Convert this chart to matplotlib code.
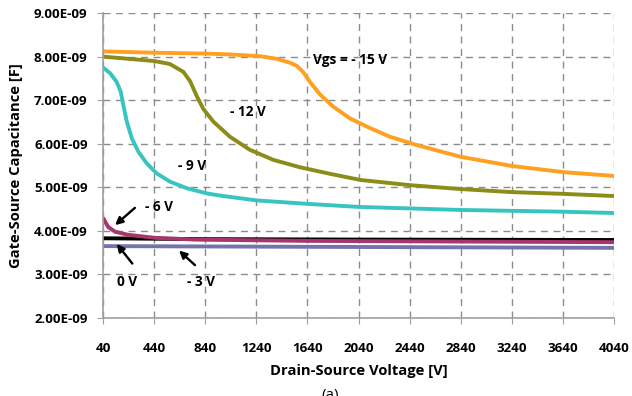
import numpy as np
import matplotlib.pyplot as plt

plt.rcParams["font.family"] = ["Open Sans", "DejaVu Sans"]
plt.rcParams["font.weight"] = "bold"

# Gate-source capacitance [nF] vs drain-source voltage [V], per Vgs
v_15 = [40, 440, 840, 1034, 1269, 1400, 1504, 1556, 1608, 1660, 1739, 1843, 1974,
        2130, 2287, 2496, 2840, 3240, 3640, 4040]
c_15 = [8.12, 8.09, 8.07, 8.05, 8.01, 7.95, 7.86, 7.79, 7.64, 7.42, 7.13, 6.85, 6.58,
        6.36, 6.16, 5.97, 5.70, 5.49, 5.35, 5.26]

v_12 = [40, 277, 440, 564, 669, 721, 773, 825, 903, 1034, 1190, 1373, 1582, 1817, 2052,
        2440, 2840, 3240, 3640, 4040]
c_12 = [8.00, 7.94, 7.90, 7.83, 7.65, 7.44, 7.10, 6.80, 6.51, 6.16, 5.86, 5.63, 5.46, 5.31, 5.17,
        5.05, 4.96, 4.89, 4.85, 4.80]

v_9 = [40, 95, 147, 179, 199, 226, 265, 316, 382, 460, 564, 695, 852, 956, 1240, 1640,
       2040, 2840, 3640, 4040]
c_9 = [7.75, 7.62, 7.42, 7.19, 6.89, 6.51, 6.13, 5.82, 5.55, 5.32, 5.13, 4.98, 4.86, 4.81, 4.70, 4.62,
       4.55, 4.48, 4.44, 4.41]

v_6 = [40, 80, 135, 235, 447, 760, 1640, 2440, 3240, 4040]
c_6 = [4.30, 4.09, 3.98, 3.91, 3.84, 3.80, 3.77, 3.76, 3.75, 3.74]

v_0 = [40, 840, 2040, 4040]
c_0 = [3.83, 3.81, 3.80, 3.79]

v_3 = [40, 2040, 4040]
c_3 = [3.65, 3.63, 3.61]

xticks = np.arange(40, 4041, 400)
yticks = np.arange(2.0, 9.01, 1.0)

fig = plt.figure(figsize=(6.32, 3.96), dpi=100)
ax = fig.add_axes([0.163, 0.197, 0.8085, 0.770])

series = [
    (v_3, c_3, "#7474AC"),
    (v_0, c_0, "black"),
    (v_6, c_6, "#A8356C"),
    (v_9, c_9, "#38C4C0"),
    (v_12, c_12, "#8C8C18"),
    (v_15, c_15, "#FFA020"),
]
for vs, cs, col in series:
    ax.plot(vs, np.array(cs) * 1e-9, color=col, linewidth=2.8,
            solid_joinstyle="round", solid_capstyle="butt")

ax.set_xlim(40, 4040)
ax.set_ylim(2e-9, 9e-9)
ax.set_xticks(xticks)
ax.set_yticks(yticks * 1e-9)
ax.set_yticklabels([f"{t:.2f}E-09" for t in yticks])
ax.grid(True, color="#8c8c8c", linestyle=(0, (5, 4)), linewidth=1)
for s in ["top", "right"]:
    ax.spines[s].set_visible(False)
for s in ["left", "bottom"]:
    ax.spines[s].set_color("#a0a0a0")
    ax.spines[s].set_linewidth(1.2)
ax.tick_params(colors="#a0a0a0", labelcolor="black", length=4, labelsize=9.6)
ax.tick_params(axis="x", pad=13)
ax.tick_params(axis="y", pad=7)
for lab in ax.get_xticklabels() + ax.get_yticklabels():
    lab.set_fontweight("bold")

ax.set_xlabel("Drain-Source Voltage [V]", fontsize=10.6, fontweight="bold", labelpad=7)
ax.set_ylabel("Gate-Source Capacitance [F]", fontsize=10.6, fontweight="bold", labelpad=8)

fs = 9.8
ax.text(1973, 7.92e-9, "Vgs = - 15 V", fontsize=fs, fontweight="bold", ha="center", va="center")
ax.text(1175, 6.73e-9, "- 12 V", fontsize=fs, fontweight="bold", ha="center", va="center")
ax.text(737, 5.49e-9, "- 9 V", fontsize=fs, fontweight="bold", ha="center", va="center")
ax.text(478, 4.55e-9, "- 6 V", fontsize=fs, fontweight="bold", ha="center", va="center")
ax.text(228, 2.83e-9, "0 V", fontsize=fs, fontweight="bold", ha="center", va="center")
ax.text(807, 2.83e-9, "- 3 V", fontsize=fs, fontweight="bold", ha="center", va="center")

arrow = dict(arrowstyle="-|>", color="black", lw=1.7, mutation_scale=11)
ax.annotate("", xy=(118, 4.09e-9), xytext=(306, 4.57e-9), arrowprops=arrow)
ax.annotate("", xy=(134, 3.75e-9), xytext=(283, 3.20e-9), arrowprops=arrow)
ax.annotate("", xy=(619, 3.59e-9), xytext=(776, 3.17e-9), arrowprops=arrow)

fig.text(0.522, 0.0, "(a)", fontsize=11, fontweight="normal", ha="center", va="center")

fig.savefig("out.png", dpi=100)
